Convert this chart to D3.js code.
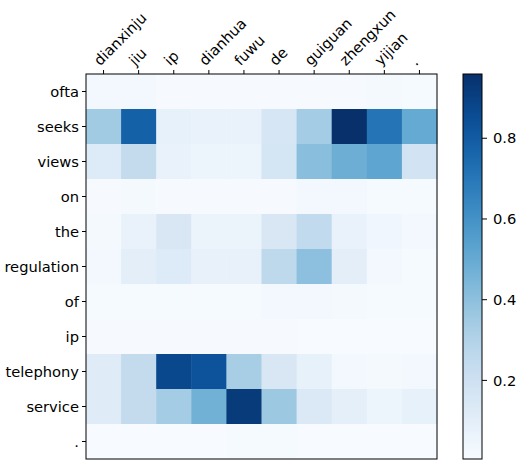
<!DOCTYPE html>
<html>
<head>
<meta charset="utf-8">
<script src="https://cdn.jsdelivr.net/npm/d3@7"></script>
<style>
  body { margin: 0; background: #fff; }
  text { font-family: "DejaVu Sans", sans-serif; font-size: 14.7px; fill: #000; }
</style>
</head>
<body>
<div id="chart"></div>
<script>
// source tokens (columns) and target tokens (rows)
const sourceTokens = ['dianxinju', 'jiu', 'ip', 'dianhua', 'fuwu', 'de', 'guiguan', 'zhengxun', 'yijian', '.'];
const targetTokens = ['ofta', 'seeks', 'views', 'on', 'the', 'regulation', 'of', 'ip', 'telephony', 'service', '.'];

// attention weights, one row per target token
const weights = [
    [0.025, 0.025, 0.010, 0.010, 0.010, 0.010, 0.010, 0.010, 0.020, 0.015],
    [0.350, 0.780, 0.080, 0.070, 0.070, 0.160, 0.340, 0.958, 0.710, 0.500],
    [0.130, 0.240, 0.070, 0.050, 0.050, 0.170, 0.410, 0.480, 0.520, 0.180],
    [0.010, 0.020, 0.010, 0.010, 0.010, 0.010, 0.030, 0.030, 0.015, 0.015],
    [0.020, 0.070, 0.150, 0.060, 0.060, 0.150, 0.250, 0.070, 0.040, 0.030],
    [0.030, 0.100, 0.130, 0.075, 0.075, 0.260, 0.400, 0.100, 0.025, 0.015],
    [0.012, 0.012, 0.012, 0.012, 0.012, 0.025, 0.025, 0.018, 0.012, 0.012],
    [0.008, 0.009, 0.009, 0.009, 0.009, 0.009, 0.004, 0.004, 0.004, 0.004],
    [0.120, 0.240, 0.870, 0.830, 0.330, 0.150, 0.080, 0.030, 0.020, 0.030],
    [0.120, 0.240, 0.340, 0.470, 0.920, 0.360, 0.140, 0.090, 0.050, 0.080],
    [0.005, 0.005, 0.005, 0.005, 0.015, 0.012, 0.005, 0.005, 0.005, 0.005]
];

const colorbarTicks = [0.2, 0.4, 0.6, 0.8];

// FIGURE DIMENSIONS
const FIGURE = { WIDTH: 517, HEIGHT: 460 };
const PLOT = { LEFT: 86, TOP: 74, WIDTH: 351, HEIGHT: 385 };
const BAR = { LEFT: 463, WIDTH: 19 };

const cells = [];
weights.forEach((row, i) => row.forEach((v, j) => cells.push({
    source: sourceTokens[j], target: i, value: v
})));

const extent = d3.extent(cells, d => d.value);
const color = d3.scaleSequential(d3.interpolateBlues).domain(extent);

const x = d3.scaleBand()
    .domain(sourceTokens)
    .range([0, PLOT.WIDTH]);

// rows keyed by index since '.' appears in both lists
const y = d3.scaleBand()
    .domain(d3.range(targetTokens.length))
    .range([0, PLOT.HEIGHT]);

const svg = d3.select('#chart')
    .append('svg')
        .attr('width', FIGURE.WIDTH)
        .attr('height', FIGURE.HEIGHT);

const plot = svg.append('g')
    .attr('transform', `translate(${PLOT.LEFT}, ${PLOT.TOP})`);

plot.append('g')
        .attr('class', 'matrix')
    .selectAll('rect')
    .data(cells)
    .enter()
    .append('rect')
        .attr('x', d => x(d.source))
        .attr('y', d => y(d.target))
        .attr('width', x.bandwidth() + 0.5)
        .attr('height', y.bandwidth() + 0.5)
        .attr('fill', d => color(d.value));

// x axis on top, rotated labels
const xAxis = plot.append('g')
    .attr('class', 'xAxis')
    .call(d3.axisTop(x).tickSize(4).tickPadding(4));
xAxis.select('.domain').remove();
xAxis.selectAll('line').attr('stroke', '#000');
xAxis.selectAll('text')
    .attr('text-anchor', 'start')
    .attr('x', 0)
    .attr('y', 0)
    .attr('dy', 0)
    .attr('transform', 'translate(-3.5, -7.5) rotate(-45)');

const yAxis = plot.append('g')
    .attr('class', 'yAxis')
    .call(d3.axisLeft(y).tickSize(4).tickPadding(3).tickFormat(i => targetTokens[i]));
yAxis.select('.domain').remove();
yAxis.selectAll('line').attr('stroke', '#000');
yAxis.selectAll('text').attr('dy', '0.35em');

plot.append('rect')
    .attr('width', PLOT.WIDTH)
    .attr('height', PLOT.HEIGHT)
    .attr('fill', 'none')
    .attr('stroke', '#000')
    .attr('stroke-width', 1);

// colorbar
const cbScale = d3.scaleLinear()
    .domain(extent)
    .range([PLOT.HEIGHT, 0]);

const grad = svg.append('defs')
    .append('linearGradient')
        .attr('id', 'cb')
        .attr('x1', 0).attr('y1', 1)
        .attr('x2', 0).attr('y2', 0);
grad.selectAll('stop')
    .data(d3.range(0, 1.0001, 0.05))
    .enter()
    .append('stop')
        .attr('offset', d => d)
        .attr('stop-color', d => d3.interpolateBlues(d));

const bar = svg.append('g')
    .attr('transform', `translate(${BAR.LEFT}, ${PLOT.TOP})`);

bar.append('rect')
    .attr('width', BAR.WIDTH)
    .attr('height', PLOT.HEIGHT)
    .attr('fill', 'url(#cb)')
    .attr('stroke', '#000')
    .attr('stroke-width', 1);

const cbAxis = bar.append('g')
    .attr('transform', `translate(${BAR.WIDTH}, 0)`)
    .call(d3.axisRight(cbScale).tickValues(colorbarTicks).tickSize(5).tickPadding(6).tickFormat(d3.format('.1f')));
cbAxis.select('.domain').remove();
cbAxis.selectAll('line').attr('stroke', '#000');
cbAxis.selectAll('text').attr('dy', '0.35em');
</script>
</body>
</html>
